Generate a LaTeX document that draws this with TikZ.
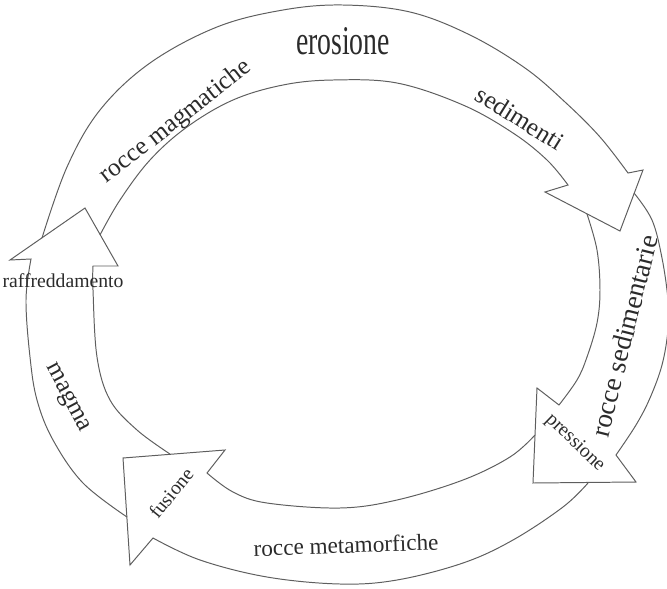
\documentclass[tikz,border=0pt]{standalone}
\usepackage{fontspec}
\setmainfont{Liberation Serif}
\usepackage{graphicx}
\usepackage{tikz}
\definecolor{grigio}{HTML}{5E5E5E}
\definecolor{scuro}{HTML}{2B2B2B}
\tikzset{
  freccia/.style={grigio,line width=0.7pt,line join=miter},
  etich/.style={scuro,inner sep=0pt,font=\fontsize{18}{20}\selectfont},
  etichg/.style={scuro,inner sep=0pt,font=\fontsize{29}{30}\selectfont},
  etichp/.style={scuro,inner sep=0pt,font=\fontsize{14}{15}\selectfont},
}
\begin{document}
\begin{tikzpicture}[x=0.025cm,y=-0.025cm]
  \useasboundingbox (0,0) rectangle (667,588);
  % erosione (sopra)
  \draw[freccia] plot[smooth,tension=0.6] coordinates {(42,238) (67,167) (100,110) (150,63) (217,27) (283,10) (343,5) (410,12) (470,35) (525,68) (565,102) (600,137) (628,173)}
    -- (643,170) -- (620,231) -- (545,192)
    -- plot[smooth,tension=0.6] coordinates {(568,185) (547,160) (513,133) (463,105) (397,83) (333,80) (283,85) (233,100) (187,127) (150,160) (120,200) (100,235)};
  % rocce sedimentarie (destra)
  \draw[freccia] plot[smooth,tension=0.6] coordinates {(634,193) (652,220) (662,258) (668,300) (668,330) (662,365) (650,398) (636,425) (616,455)}
    -- (636,482) -- (533,483) -- (537,388)
    -- plot[smooth,tension=0.6] coordinates {(559,405) (577,380) (587,357) (597,323) (600,290) (597,250) (587,214)};
  % rocce metamorfiche (sotto)
  \draw[freccia] plot[smooth,tension=0.6] coordinates {(588,483) (563,507) (513,540) (463,563) (397,580) (340,584) (267,577) (200,560) (153,538)}
    -- (130,565) -- (123,458) -- (225,450)
    -- plot[smooth,tension=0.6] coordinates {(207,473) (233,492) (267,503) (340,508) (397,500) (463,480) (510,457) (535,435)};
  % magma (sinistra)
  \draw[freccia] plot[smooth,tension=0.6] coordinates {(127,517) (83,483) (53,440) (37,400) (30,357) (26,300) (31,259)}
    -- (10,260) -- (85,208) -- (118,266)
    -- plot[smooth,tension=0.6] coordinates {(93,266) (93,290) (97,357) (110,400) (137,430) (170,454)};
  % scritte
  \node[etichg] (ero) at (343,41) {\scalebox{0.68}[1]{erosione}};
  \node[etich,rotate=38] (rmag) at (176,122) {rocce magmatiche};
  \node[etich,rotate=-32] (sedi) at (520,118) {sedimenti};
  \node[etich,rotate=76,font=\fontsize{19.5}{21}\selectfont] (rsed) at (624,336) {rocce sedimentarie};
  \node[etichp,rotate=-44] (pres) at (575,443) {pressione};
  \node[etich,rotate=2,font=\fontsize{16.5}{18}\selectfont] (rmet) at (346,545) {rocce metamorfiche};
  \node[etichp,rotate=51] (fusi) at (171,493) {fusione};
  \node[etich,rotate=-62] (magm) at (67,398) {magma};
  \node[etichp] (raff) at (63,281) {raffreddamento};
\end{tikzpicture}
\end{document}
